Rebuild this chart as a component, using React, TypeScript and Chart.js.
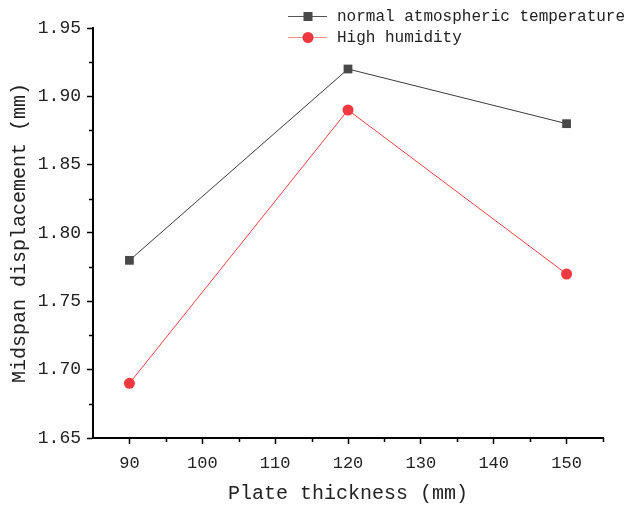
import React, { useEffect, useRef } from "react";
import { Chart, registerables } from "chart.js";

Chart.register(...registerables);

const thickness = [90, 120, 150];
const normalTemp = [1.78, 1.92, 1.88];
const highHumidity = [1.69, 1.89, 1.77];
const xTicks = [90, 100, 110, 120, 130, 140, 150];
const xMinor = [95, 105, 115, 125, 135, 145, 155];
const yTicks = [1.65, 1.7, 1.75, 1.8, 1.85, 1.9, 1.95];
const yMinor = [1.675, 1.725, 1.775, 1.825, 1.875, 1.925];
const seriesLabels = ["normal atmospheric temperature", "High humidity"];

const FONT = "'Liberation Mono', 'DejaVu Sans Mono', monospace";

export default function App() {
  const ref = useRef<HTMLCanvasElement | null>(null);
  useEffect(() => {
    document.body.style.margin = "0";
    const canvas = ref.current!;
    const minorTicks = {
      id: "minorTicks",
      afterDraw(chart: any) {
        const ctx = chart.ctx;
        const xs = chart.scales.x;
        const ys = chart.scales.y;
        const area = chart.chartArea;
        ctx.save();
        ctx.strokeStyle = "#000";
        ctx.lineWidth = 1.5;
        ctx.beginPath();
        xMinor.forEach((v) => {
          const px = Math.round(xs.getPixelForValue(v)) + 0.5;
          ctx.moveTo(px, area.bottom);
          ctx.lineTo(px, area.bottom + 4);
        });
        yMinor.forEach((v) => {
          const py = Math.round(ys.getPixelForValue(v)) + 0.5;
          ctx.moveTo(area.left, py);
          ctx.lineTo(area.left - 4, py);
        });
        ctx.stroke();
        ctx.restore();
      },
    };
    const legendPlugin = {
      id: "customLegend",
      afterDraw(chart: any) {
        const ctx = chart.ctx;
        const ds = chart.data.datasets;
        ctx.save();
        const rows = [16, 37];
        ds.forEach((d: any, i: number) => {
          const y = rows[i];
          ctx.strokeStyle = i === 0 ? "#555" : "#f58a8a";
          ctx.lineWidth = 1.2;
          ctx.beginPath();
          ctx.moveTo(288, y + 0.5);
          ctx.lineTo(327, y + 0.5);
          ctx.stroke();
          ctx.fillStyle = d.pointBackgroundColor;
          ctx.beginPath();
          if (i === 0) {
            ctx.rect(303.5, y - 4, 9, 9);
          } else {
            ctx.arc(308, y + 0.5, 5.5, 0, Math.PI * 2);
          }
          ctx.fill();
          ctx.fillStyle = "#222";
          ctx.font = "16px " + FONT;
          ctx.textBaseline = "middle";
          ctx.textAlign = "left";
          ctx.fillText(seriesLabels[i], 337, y + 1);
        });
        ctx.restore();
      },
    };
    const chart = new Chart(canvas, {
      type: "line",
      data: {
        datasets: [
          {
            label: seriesLabels[0],
            data: thickness.map((x, i) => ({ x, y: normalTemp[i] })),
            borderColor: "#3a3a3a",
            borderWidth: 1,
            pointStyle: "rect",
            pointRadius: 6.2,
            pointBackgroundColor: "#494949",
            pointBorderColor: "#494949",
            pointBorderWidth: 0,
            tension: 0,
          },
          {
            label: seriesLabels[1],
            data: thickness.map((x, i) => ({ x, y: highHumidity[i] })),
            borderColor: "#f04040",
            borderWidth: 1,
            pointStyle: "circle",
            pointRadius: 5.5,
            pointBackgroundColor: "#f0383f",
            pointBorderColor: "#f0383f",
            pointBorderWidth: 0,
            tension: 0,
          },
        ],
      },
      options: {
        animation: false,
        responsive: false,
        devicePixelRatio: 1,
        layout: { padding: { top: 28, right: 24, left: 0, bottom: 0 } },
        plugins: { legend: { display: false }, tooltip: { enabled: false } },
        scales: {
          x: {
            type: "linear",
            min: 85,
            max: 155,
            afterBuildTicks: (s: any) => {
              s.ticks = xTicks.map((v) => ({ value: v }));
            },
            afterFit: (s: any) => {
              s.height = 70;
            },
            grid: {
              drawOnChartArea: false,
              drawTicks: true,
              tickLength: 6,
              tickColor: "#000",
              tickWidth: 1.5,
            },
            border: { display: true, color: "#000", width: 2 },
            ticks: {
              color: "#222",
              font: { family: FONT, size: 17 },
              padding: 9,
              maxRotation: 0,
              callback: (v: any) => String(v),
            },
            title: {
              display: true,
              text: "Plate thickness (mm)",
              color: "#222",
              font: { family: FONT, size: 20 },
              padding: { top: 8, bottom: 2 },
            },
          },
          y: {
            type: "linear",
            min: 1.65,
            max: 1.95,
            afterBuildTicks: (s: any) => {
              s.ticks = yTicks.map((v) => ({ value: v }));
            },
            afterFit: (s: any) => {
              s.width = 93;
            },
            grid: {
              drawOnChartArea: false,
              drawTicks: true,
              tickLength: 6,
              tickColor: "#000",
              tickWidth: 1.5,
            },
            border: { display: true, color: "#000", width: 2 },
            ticks: {
              color: "#222",
              font: { family: FONT, size: 18 },
              padding: 6,
              callback: (v: any) => Number(v).toFixed(2),
            },
            title: {
              display: true,
              text: "Midspan displacement (mm)",
              color: "#222",
              font: { family: FONT, size: 20 },
              padding: { top: 8, bottom: 4 },
            },
          },
        },
      },
      plugins: [minorTicks, legendPlugin],
    } as any);
    return () => chart.destroy();
  }, []);
  return (
    <div style={{ position: "absolute", left: 0, top: 0, width: 627, height: 508 }}>
      <canvas ref={ref} width={627} height={508} style={{ width: 627, height: 508 }} />
    </div>
  );
}
